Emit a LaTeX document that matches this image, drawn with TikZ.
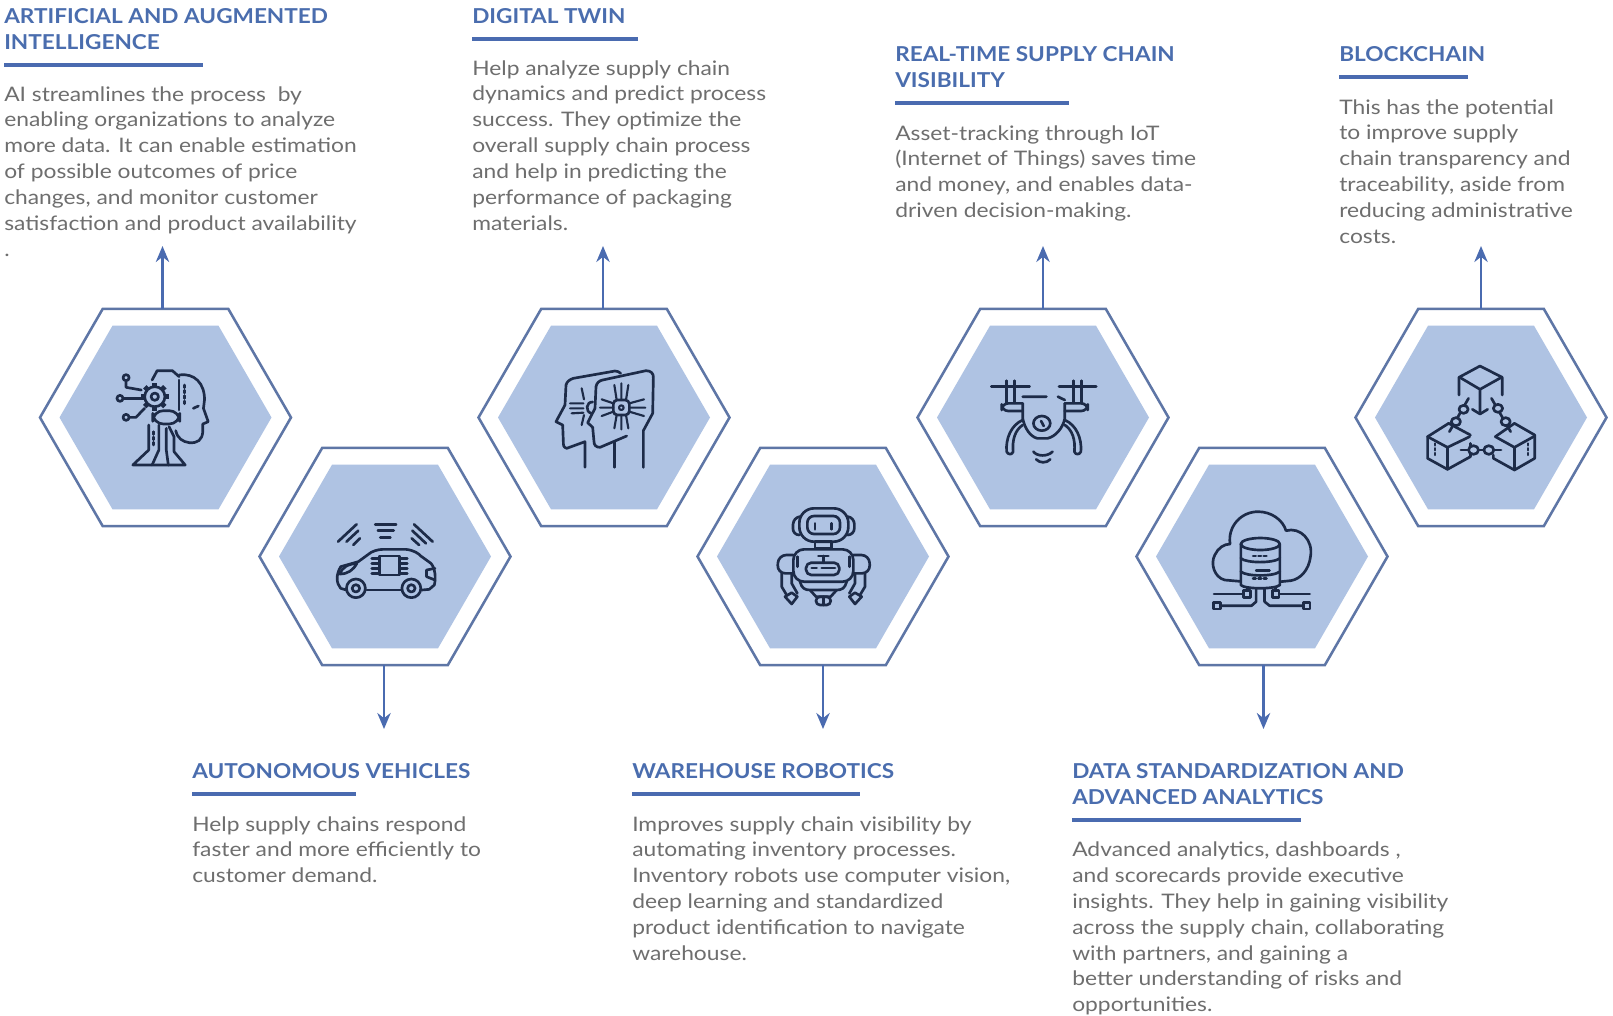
\documentclass[tikz,border=0pt]{standalone}
\usepackage{fontspec}
\usetikzlibrary{shapes.geometric,arrows.meta}
\setmainfont{Lato}
\newfontfamily\bodyf[FakeStretch=1.14]{Lato}
\newfontfamily\headf[FakeStretch=1.10]{Lato}
\definecolor{hexfill}{HTML}{AFC3E3}
\definecolor{hexline}{HTML}{5E76A6}
\definecolor{headc}{HTML}{4A6DAE}
\definecolor{bodyc}{HTML}{6E6E6E}
\definecolor{rulec}{HTML}{4A6BB0}
\definecolor{iconc}{HTML}{1D2B48}
\tikzset{
 hexout/.style={regular polygon,regular polygon sides=6,minimum size=251*0.75pt,inner sep=0pt,outer sep=0pt,draw=hexline,line width=1.9pt,fill=white},
 hexin/.style={regular polygon,regular polygon sides=6,minimum size=212*0.75pt,inner sep=0pt,outer sep=0pt,fill=hexfill},
 conn/.style={draw=rulec,line width=1.9pt,-{Stealth[length=12pt,width=10pt]}},
 headtxt/.style={anchor=north west,inner sep=0pt,align=left,text=headc,font=\headf\bfseries\fontsize{15.4pt}{19.5pt}\selectfont,execute at begin node={\rule{0pt}{15pt}}},
 bodytxt/.style={anchor=north west,inner sep=0pt,align=left,text=bodyc,font=\bodyf\fontsize{15pt}{19.42pt}\selectfont,execute at begin node={\rule{0pt}{15pt}}},
 underl/.style={draw=rulec,line width=3pt},
 ico/.style={draw=iconc,line width=2pt,line cap=round,line join=round},
 icot/.style={draw=iconc,line width=1.6pt,line cap=round,line join=round},
}
\begin{document}
\begin{tikzpicture}[x=0.75pt,y=-0.75pt]
\useasboundingbox (0,0) rectangle (1613,1015);
\fill[white] (0,0) rectangle (1613,1015);
% hexagons
\foreach \n/\cx/\cy in {a/165.5/417.5,b/385/556.5,c/604/417.5,d/823/556.5,e/1043/417.5,f/1262/556.5,g/1481/417.5}{
  \node[hexout] (\n) at (\cx,\cy) {};
  \node[hexin] (\n i) at (\cx,\cy) {};
}
% arrow ends
\coordinate (ta) at (162.5,246);
\coordinate (tc) at (603,246);
\coordinate (te) at (1043,246);
\coordinate (tg) at (1481,246);
\coordinate (tb) at (384,729);
\coordinate (td) at (823,729);
\coordinate (tf) at (1263.5,729);
\foreach \n in {a,c,e,g} \draw[conn] (t\n |- \n.north) -- (t\n);
\foreach \n in {b,d,f} \draw[conn] (t\n |- \n.south) -- (t\n);
% headings
\node[headtxt] (ha) at (4,8.5) {ARTIFICIAL AND AUGMENTED\\INTELLIGENCE};
\node[headtxt] (hc) at (472,3.3) {DIGITAL TWIN};
\node[headtxt] (he) at (895,46.6) {REAL-TIME SUPPLY CHAIN\\VISIBILITY};
\node[headtxt] (hg) at (1339,41.4) {BLOCKCHAIN};
\node[headtxt] (hb) at (192,758.5) {AUTONOMOUS VEHICLES};
\node[headtxt] (hd) at (632,758.5) {WAREHOUSE ROBOTICS};
\node[headtxt] (hf) at (1072,763.7) {DATA STANDARDIZATION AND\\ADVANCED ANALYTICS};
% rules
\draw[underl] (4,64.5) -- (202.6,64.5);
\draw[underl] (472,38.5) -- (638,38.5);
\draw[underl] (895,102.5) -- (1069,102.5);
\draw[underl] (1339,76.6) -- (1468,76.6);
\draw[underl] (192,793.7) -- (356,793.7);
\draw[underl] (632,793.7) -- (860,793.7);
\draw[underl] (1072,819.7) -- (1301,819.7);
% body
\node[bodytxt] (ba) at (4,86) {AI streamlines the process\ \ by\\enabling organizations to analyze\\more data. It can enable estimation\\of possible outcomes of price\\changes, and monitor customer\\satisfaction and product availability\\.};
\node[bodytxt] (bc) at (472,60) {Help analyze supply chain\\dynamics and predict process\\success. They optimize the\\overall supply chain process\\and help in predicting the\\performance of packaging\\materials.};
\node[bodytxt] (be) at (895,125) {Asset-tracking through IoT\\(Internet of Things) saves time\\and money, and enables data-\\driven decision-making.};
\node[bodytxt] (bg) at (1339,99) {This has the potential\\to improve supply\\chain transparency and\\traceability, aside from\\reducing administrative\\costs.};
\node[bodytxt] (bb) at (192,816) {Help supply chains respond\\faster and more efficiently to\\customer demand.};
\node[bodytxt] (bd) at (632,816) {Improves supply chain visibility by\\automating inventory processes.\\Inventory robots use computer vision,\\deep learning and standardized\\product identification to navigate\\warehouse.};
\node[bodytxt] (bf) at (1072,841.5) {Advanced analytics, dashboards ,\\and scorecards provide executive\\insights. They help in gaining visibility\\across the supply chain, collaborating\\with partners, and gaining a\\better understanding of risks and\\opportunities.};
% ---------- icon 1 and 2 (zoom coordinates)
\begin{scope}[shift={(0,280)},x=0.2535pt,y=-0.25pt]
 % AI head
 \draw[ico] (530,285) .. controls (575,278) and (606,310) .. (605,360) -- (602,385) -- (616,425) -- (600,432) -- (600,455) .. controls (598,480) and (585,490) .. (560,488) .. controls (540,485) and (525,475) .. (520,452);
 \draw[ico] (530,290) -- (510,272) -- (465,272) -- (450,300);
 \draw[ico] (530,300) -- (530,390);
 \draw[ico,dotted] (545,315) -- (545,378);
 \draw[ico] (587,378) -- (572,385);
 \draw[ico] (458,350) circle [radius=11];
 \foreach \a in {0,45,...,315}{\draw[ico,line width=3.6pt,line cap=butt] (458,350) ++(\a:29) -- ++(\a:13);}
 \draw[ico] (458,350) circle [radius=30];
 \draw[ico] (373,293) circle [radius=9];
 \draw[ico] (355,355) circle [radius=9];
 \draw[ico] (373,412) circle [radius=9];
 \draw[ico] (373,302) -- (373,322) -- (418,330);
 \draw[ico] (364,355) -- (425,355);
 \draw[ico] (382,412) -- (402,412) -- (428,385);
 \draw[ico,rounded corners=8pt] (452,392) rectangle (532,432);
 \draw[ico] (440,435) -- (440,510) -- (393,555) -- (548,555) -- (515,515) -- (515,470) -- (500,440);
 \draw[ico] (470,435) -- (470,510) -- (450,555);
 \draw[ico] (492,445) -- (492,510) -- (498,555);
 \draw[ico,dotted] (455,455) -- (455,495);
 % car
 \draw[ico] (1025,930) -- (1008,925) .. controls (995,910) and (993,885) .. (1008,860) -- (1060,845) -- (1098,817) .. controls (1115,808) and (1130,808) .. (1140,808) -- (1200,808) .. controls (1225,810) and (1240,822) .. (1245,828) -- (1275,850) .. controls (1288,865) and (1290,895) .. (1285,915) -- (1270,928) -- (1248,930);
 \draw[ico] (1085,930) -- (1187,930);
 \draw[ico] (1053,925) circle [radius=28];
 \draw[ico] (1053,925) circle [radius=11];
 \draw[ico] (1217,925) circle [radius=28];
 \draw[ico] (1217,925) circle [radius=11];
 \draw[ico] (1122,828) rectangle (1182,885);
 \foreach \y in {835,850,865,880}{\draw[ico] (1100,\y) -- (1122,\y); \draw[ico] (1182,\y) -- (1205,\y);}
 \draw[ico] (1005,882) .. controls (1012,862) and (1030,852) .. (1056,850) .. controls (1045,870) and (1030,882) .. (1005,882) -- cycle;
 \draw[ico] (1287,865) -- (1262,870) -- (1262,890) -- (1287,900);
 \draw[ico] (1110,733) -- (1172,733) (1118,752) -- (1165,752) (1125,772) -- (1155,772);
 \draw[ico] (1000,785) -- (1055,733) (1025,785) -- (1060,752) (1045,795) -- (1065,775);
 \draw[ico] (1280,785) -- (1225,733) (1260,790) -- (1220,752) (1240,795) -- (1218,775);
\end{scope}
% ---------- icons 3 and 4
\begin{scope}[shift={(520,340)},x=0.25pt,y=-0.25pt]
 % twin heads
 \draw[ico] (195,382) -- (195,305) -- (140,325) .. controls (130,322) and (130,315) .. (130,305) -- (128,255) -- (108,245) -- (135,195) -- (138,135) .. controls (140,125) and (150,118) .. (160,115) -- (285,93) .. controls (292,93) and (298,96) .. (302,100);
 \draw[ico] (283,382) -- (283,305);
 \draw[ico] (320,288) -- (240,322) .. controls (228,322) and (222,315) .. (222,305) -- (218,262) -- (203,248) -- (225,205) -- (228,140) .. controls (230,128) and (238,122) .. (248,120) -- (378,92) .. controls (392,92) and (402,100) .. (400,115) -- (398,220) -- (370,272) -- (370,382);
 \draw[ico,rounded corners=3pt] (280,180) rectangle (328,225);
 \draw[icot] (304,203) circle [radius=7];
 \draw[icot] (290,180) -- (283,135) (304,180) -- (304,130) (318,180) -- (325,135);
 \draw[icot] (290,225) -- (283,265) (304,225) -- (304,268) (318,225) -- (325,265);
 \draw[icot] (280,190) -- (245,178) (280,203) -- (240,203) (280,215) -- (245,228);
 \draw[icot] (328,190) -- (372,178) (328,203) -- (376,203) (328,215) -- (372,228);
 \draw[icot] (185,145) -- (192,178) (150,190) -- (190,190) (150,205) -- (190,205) (155,220) -- (190,218) (185,255) -- (192,225);
 \draw[ico] (218,186) .. controls (198,185) and (195,215) .. (214,220);
 % robot
 \draw[ico,rounded corners=11pt] (838,505) rectangle (985,605);
 \draw[ico,rounded corners=5pt] (862,528) rectangle (960,582);
 \draw[ico] (885,550) -- (885,568) (935,550) -- (935,568);
 \draw[ico,rounded corners=5pt] (838,530) -- (820,532) -- (818,585) -- (838,585);
 \draw[ico,rounded corners=5pt] (985,530) -- (1003,532) -- (1003,585) -- (985,585);
 \draw[ico] (885,605) rectangle (935,626);
 \draw[ico,rounded corners=8pt] (820,628) rectangle (1000,725);
 \draw[ico,rounded corners=4pt] (858,668) rectangle (958,705);
 \draw[ico] (875,684) -- (890,684) (905,684) -- (945,684);
 \draw[ico] (895,648) -- (925,648) (910,648) -- (910,668);
 \draw[ico] (832,650) -- (832,680) (988,650) -- (988,680);
 \draw[ico,rounded corners=6pt] (820,645) -- (775,645) -- (772,700) -- (820,700);
 \draw[ico,rounded corners=6pt] (1000,645) -- (1048,645) -- (1050,700) -- (1000,700);
 \draw[ico] (785,700) -- (785,740) -- (800,765) (815,700) -- (815,730) -- (832,760);
 \draw[ico] (795,770) -- (815,792) -- (832,770) -- (815,758) -- cycle;
 \draw[ico] (1035,700) -- (1035,740) -- (1020,765) (1005,700) -- (1005,730) -- (988,760);
 \draw[ico] (1025,770) -- (1005,792) -- (988,770) -- (1005,758) -- cycle;
 \draw[ico] (840,725) .. controls (845,745) and (855,750) .. (870,750) -- (950,750) .. controls (965,750) and (975,745) .. (980,725);
 \draw[ico] (870,750) -- (888,770) -- (932,770) -- (950,750);
 \draw[ico,rounded corners=3pt] (888,770) rectangle (932,795);
 \draw[ico] (910,770) -- (910,795);
\end{scope}
% ---------- icons 5,6,7
\begin{scope}[shift={(950,340)},x=0.287pt,y=-0.25pt]
 % drone
 \draw[ico] (108,140) -- (208,140) (285,140) -- (382,140);
 \draw[ico] (148,122) -- (148,188) (168,122) -- (168,188) (322,122) -- (322,188) (344,122) -- (344,188);
 \draw[ico] (190,170) -- (252,170) (282,170) -- (300,180);
 \draw[ico,rounded corners=5pt] (190,190) -- (135,190) -- (135,213) -- (190,213);
 \draw[ico,rounded corners=5pt] (300,190) -- (360,190) -- (360,213) -- (300,213);
 \draw[ico] (190,190) -- (190,235) .. controls (195,265) and (210,290) .. (228,295) -- (255,295) .. controls (275,290) and (295,265) .. (300,235) -- (300,190);
 \draw[ico] (240,250) circle [radius=22];
 \draw[ico] (238,243) -- (245,258);
 \draw[ico] (190,240) .. controls (160,255) and (145,295) .. (148,335) .. controls (152,345) and (162,345) .. (165,335) .. controls (162,300) and (170,270) .. (190,255);
 \draw[ico] (300,240) .. controls (330,255) and (345,295) .. (342,335) .. controls (338,345) and (328,345) .. (325,335) .. controls (328,300) and (320,270) .. (300,255);
 \draw[ico] (218,335) .. controls (228,350) and (255,350) .. (268,335);
 \draw[ico] (225,358) .. controls (235,370) and (252,370) .. (262,358);
 % cloud database
 \draw[ico] (758,724) -- (718,720) .. controls (690,712) and (680,670) .. (692,645) .. controls (700,625) and (715,612) .. (732,612) .. controls (725,560) and (760,515) .. (805,515) .. controls (840,515) and (870,540) .. (878,572) .. controls (915,560) and (950,600) .. (942,650) .. controls (938,690) and (915,718) .. (890,722) -- (864,725);
 \draw[ico] (760,612) -- (760,735) .. controls (770,748) and (850,748) .. (862,735) -- (862,612);
 \draw[ico] (811,612) ellipse [x radius=51,y radius=18];
 \draw[ico] (760,655) .. controls (775,670) and (845,670) .. (862,655);
 \draw[ico] (760,695) .. controls (775,710) and (845,710) .. (862,695);
 \draw[ico,dotted] (792,648) -- (830,648) (792,715) -- (830,715);
 \draw[ico] (800,692) -- (835,692);
 \draw[ico] (690,762) -- (767,762) (940,762) -- (860,762);
 \draw[ico] (767,752) rectangle (785,772);
 \draw[ico] (843,752) rectangle (860,772);
 \draw[ico] (776,745) -- (776,752) (851,745) -- (851,752);
 \draw[ico] (689,787) rectangle (707,807);
 \draw[ico] (923,787) rectangle (941,807);
 \draw[ico] (707,797) -- (788,797) -- (800,785) -- (800,745);
 \draw[ico] (923,797) -- (835,797) -- (822,785) -- (822,745);
 % blockchain
 \draw[ico] (1330,165) -- (1330,112) -- (1385,78) -- (1443,112) -- (1443,165);
 \draw[ico] (1332,112) -- (1385,148) -- (1441,112) (1385,148) -- (1385,215);
 \draw[ico] (1365,208) -- (1385,222) -- (1405,208);
 \draw[ico] (1360,285) -- (1303,250) -- (1248,290) -- (1248,355) -- (1300,388) -- (1360,350) -- (1360,310);
 \draw[ico] (1248,290) -- (1300,322) -- (1358,290) (1300,322) -- (1300,388);
 \draw[ico] (1425,290) -- (1475,250) -- (1528,285) -- (1528,355) -- (1475,390) -- (1420,355) -- (1420,345);
 \draw[ico] (1425,290) -- (1475,322) -- (1528,288) (1475,322) -- (1475,390);
 \draw[ico] (1355,175) -- (1305,275);
 \draw[ico,fill=hexfill] (1342,208) circle [radius=12];
 \draw[ico,fill=hexfill] (1322,245) circle [radius=12];
 \draw[ico] (1415,175) -- (1465,275);
 \draw[ico,fill=hexfill] (1432,205) circle [radius=12];
 \draw[ico,fill=hexfill] (1452,245) circle [radius=12];
 \draw[ico] (1335,330) -- (1440,330);
 \draw[ico,fill=hexfill] (1368,330) circle [radius=13];
 \draw[ico,fill=hexfill] (1408,330) circle [radius=13];
 \draw[icot,dotted] (1267,310) -- (1267,345) (1510,310) -- (1510,345);
\end{scope}
\end{tikzpicture}
\end{document}
